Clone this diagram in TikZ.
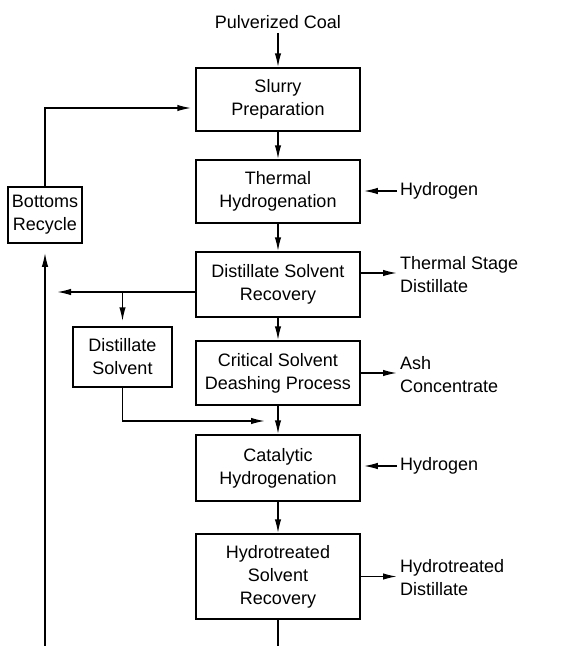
\documentclass[tikz,border=0pt]{standalone}
\usepackage{fontspec}
\setmainfont{Liberation Sans}
\usetikzlibrary{arrows.meta}
\begin{document}
\begin{tikzpicture}[x=1pt,y=-1pt,
  box/.style={draw, line width=1.5pt, align=center, inner sep=0pt, font=\fontsize{18}{23}\selectfont},
  mainbox/.style={box, minimum width=164pt},
  lbl/.style={align=left, anchor=west, inner sep=0pt, font=\fontsize{18}{23}\selectfont},
  flow/.style={line width=1.5pt, -{Latex[length=14pt,width=6.5pt]}},
  plain/.style={line width=1.5pt}]
\useasboundingbox (0,0) rectangle (561,646);

% main column
\node[mainbox, minimum height=63pt] (slurry) at (278,99.5) {Slurry\\Preparation};
\node[mainbox, minimum height=63pt] (thermal) at (278,191.5) {Thermal\\Hydrogenation};
\node[mainbox, minimum height=65pt] (dsr) at (278,284.5) {Distillate Solvent\\Recovery};
\node[mainbox, minimum height=64pt] (csd) at (278,373) {Critical Solvent\\Deashing Process};
\node[mainbox, minimum height=66pt] (cat) at (278,468) {Catalytic\\Hydrogenation};
\node[mainbox, minimum height=85pt] (hsr) at (278,576.5) {Hydrotreated\\Solvent\\Recovery};

% side boxes
\node[box, minimum width=74pt, minimum height=56pt] (bottoms) at (45,215) {Bottoms\\Recycle};
\node[box, minimum width=99pt, minimum height=60pt] (ds) at (122.5,357) {Distillate\\Solvent};

% labels
\node[inner sep=4pt, font=\fontsize{18}{23}\selectfont] (coal) at (278,22) {Pulverized Coal};
\node[lbl] (h1) at (400,191) {Hydrogen};
\node[lbl] (tsd) at (400,275) {Thermal Stage\\Distillate};
\node[lbl] (ash) at (400,374.5) {Ash\\Concentrate};
\node[lbl] (h2) at (400,466) {Hydrogen};
\node[lbl] (htd) at (400,577.5) {Hydrotreated\\Distillate};

% coordinates
\coordinate (leftend) at (57,292);
\coordinate (branch) at (122.5,292);
\coordinate (join) at (265,421);
\coordinate (bl) at (45,646);
\coordinate (bm) at (278,646);

% main flow
\draw[flow] (coal.south) -- (slurry.north);
\draw[flow] (slurry.south) -- (thermal.north);
\draw[flow] (thermal.south) -- (dsr.north);
\draw[flow] (dsr.south) -- (csd.north);
\draw[flow] (csd.south) -- (cat.north);
\draw[flow] (cat.south) -- (hsr.north);
\draw[plain] (hsr.south) -- (bm);

% recycle loop
\draw[flow, shorten >=9pt] (bl) -- (bottoms.south);
\draw[flow, shorten >=4pt] (bottoms.north) |- ([yshift=-8.5pt]slurry.west);

% distillate solvent loop
\draw[flow] ([yshift=-7.5pt]dsr.west) -- (leftend);
\draw[flow, shorten >=5pt] (branch) -- (ds.north);
\draw[flow] (ds.south) |- (join);

% side streams
\draw[flow, shorten <=3pt, shorten >=3pt] (h1.west) -- (h1.west -| thermal.east);
\draw[flow, shorten >=3pt] ([yshift=11.5pt]dsr.east) -- ([yshift=11.5pt]dsr.east -| tsd.west);
\draw[flow, shorten >=3pt] (csd.east) -- (csd.east -| ash.west);
\draw[flow, shorten <=3pt, shorten >=3pt] (h2.west) -- (h2.west -| cat.east);
\draw[flow, shorten >=3pt] (hsr.east) -- (hsr.east -| htd.west);
\end{tikzpicture}
\end{document}
